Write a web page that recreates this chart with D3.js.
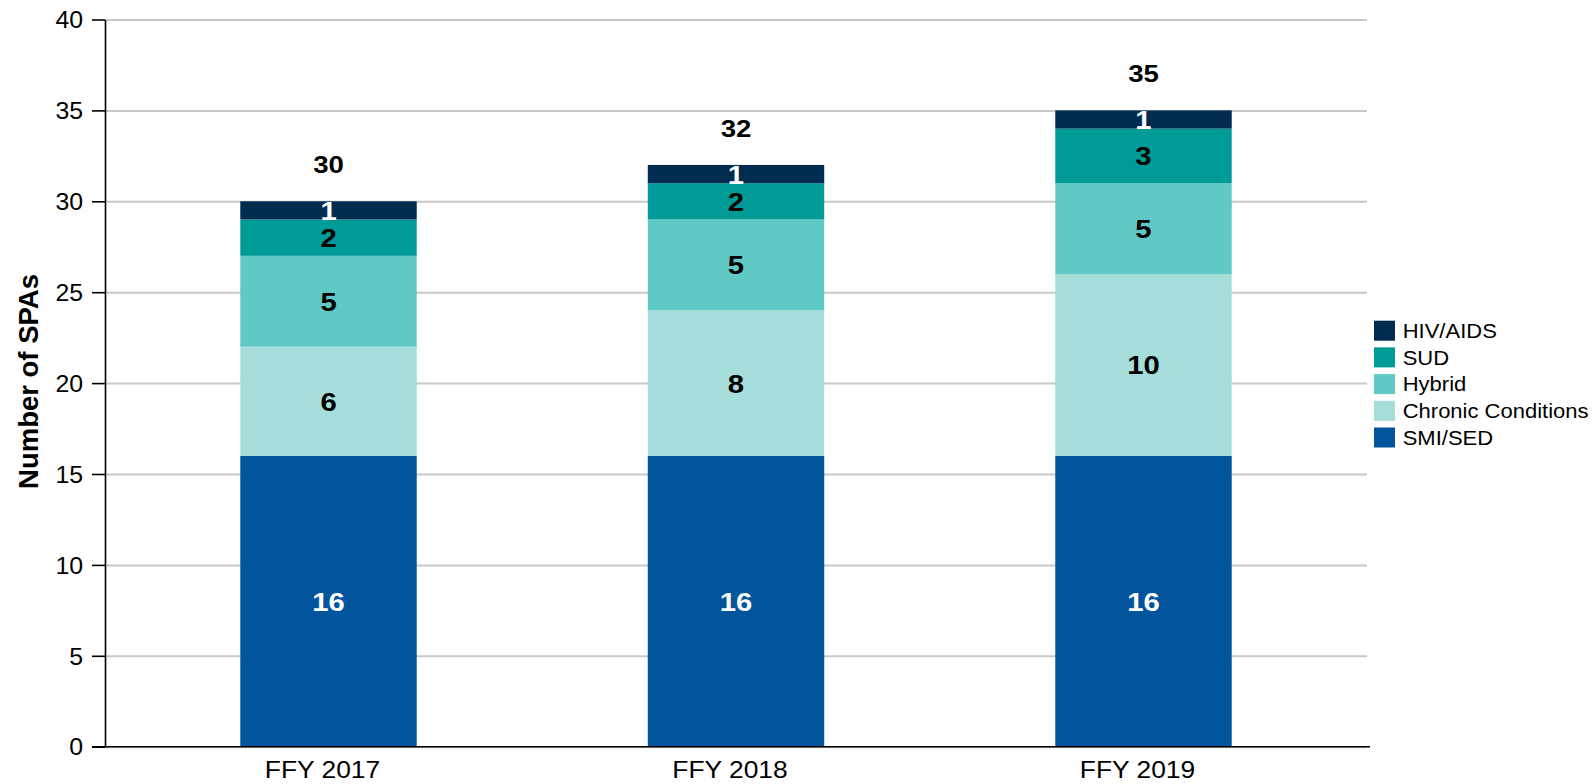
<!DOCTYPE html>
<html lang="en">
<head>
<meta charset="utf-8">
<style type="text/css">
    body { margin: 0; background: #fff; font-family: "Liberation Sans", Arial, sans-serif; }
    svg { display: block; }
    .grid line { stroke: #c8c8c8; stroke-width: 2px; }
    .grid .domain { display: none; }
    .axis path, .axis line { stroke: #000; stroke-width: 1.6px; }
</style>
</head>
<body>
<div id="chart"></div>
<script src="https://d3js.org/d3.v7.min.js"></script>
<script type="text/javascript">
    // data
    var years = ["FFY 2017", "FFY 2018", "FFY 2019"];
    var series = ["SMI/SED", "Chronic Conditions", "Hybrid", "SUD", "HIV/AIDS"];
    var smiSed = [16, 16, 16];
    var chronic = [6, 8, 10];
    var hybrid = [5, 5, 5];
    var sud = [2, 2, 3];
    var hivAids = [1, 1, 1];
    var yTicks = [0, 5, 10, 15, 20, 25, 30, 35, 40];

    var colors = ["#02559d", "#a6dcd9", "#60c9c5", "#009b97", "#022b50"];
    var labelColors = ["#fff", "#000", "#000", "#000", "#fff"];
    var legendOrder = ["HIV/AIDS", "SUD", "Hybrid", "Chronic Conditions", "SMI/SED"];

    var width = 1593, height = 784;
    var plotLeft = 105, plotRight = 1367, plotTop = 19.5, plotBottom = 746.7;

    var rows = years.map(function (y, i) {
        return {
            year: y,
            "SMI/SED": smiSed[i],
            "Chronic Conditions": chronic[i],
            "Hybrid": hybrid[i],
            "SUD": sud[i],
            "HIV/AIDS": hivAids[i]
        };
    });
    var stacked = d3.stack().keys(series)(rows);
    var color = d3.scaleOrdinal().domain(series).range(colors);
    var labelColor = d3.scaleOrdinal().domain(series).range(labelColors);

    var svg = d3.select("#chart").append("svg")
        .attr("width", width)
        .attr("height", height);

    var x = d3.scaleBand().domain(years).range([plotLeft, plotRight])
        .paddingInner(0.567).paddingOuter(0.332);
    var y = d3.scaleLinear().domain([0, 40]).range([plotBottom, plotTop]);

    // gridlines
    svg.append("g").attr("class", "grid")
        .attr("transform", "translate(" + plotLeft + ",0)")
        .call(d3.axisRight(y).tickValues(yTicks).tickSize(plotRight - plotLeft).tickFormat(""));

    // bars
    var layer = svg.append("g").selectAll("g")
        .data(stacked).enter().append("g")
        .attr("fill", function (d) { return color(d.key); });

    layer.selectAll("rect")
        .data(function (d) { return d; })
        .enter().append("rect")
        .attr("x", function (d) { return x(d.data.year); })
        .attr("y", function (d) { return y(d[1]); })
        .attr("width", x.bandwidth())
        .attr("height", function (d) { return y(d[0]) - y(d[1]); });

    // segment labels
    stacked.forEach(function (s) {
        svg.append("g").selectAll("text")
            .data(s).enter().append("text")
            .attr("transform", function (d) {
                var cx = x(d.data.year) + x.bandwidth() / 2;
                var cy = (y(d[0]) + y(d[1])) / 2 + 9.5;
                return "translate(" + cx + "," + cy + ") scale(1.17,1)";
            })
            .attr("text-anchor", "middle")
            .style("font-size", "25px")
            .style("font-weight", "bold")
            .attr("fill", labelColor(s.key))
            .text(function (d) { return d[1] - d[0]; });
    });

    // totals
    var topLayer = stacked[stacked.length - 1];
    svg.append("g").selectAll("text")
        .data(topLayer).enter().append("text")
        .attr("transform", function (d) {
            return "translate(" + (x(d.data.year) + x.bandwidth() / 2) + "," + (y(d[1]) - 28) + ") scale(1.2,1)";
        })
        .attr("text-anchor", "middle")
        .style("font-size", "23px")
        .style("font-weight", "bold")
        .attr("fill", "#000")
        .text(function (d) { return d[1]; });

    // y axis
    var yAxis = svg.append("g").attr("class", "axis")
        .attr("transform", "translate(" + plotLeft + ",0)")
        .call(d3.axisLeft(y).tickValues(yTicks).tickSize(13).tickSizeOuter(0).tickPadding(9));
    yAxis.selectAll("text")
        .attr("x", 0)
        .attr("transform", "translate(-22,0) scale(1.08,1)")
        .style("font-size", "23px")
        .style("font-family", "'Liberation Sans', Arial, sans-serif")
        .attr("fill", "#000")
        .attr("dy", "0.36em");

    // x axis
    var xAxis = svg.append("g").attr("class", "axis")
        .attr("transform", "translate(0," + plotBottom + ")")
        .call(d3.axisBottom(x).tickSize(0).tickPadding(15));
    xAxis.select(".domain").attr("d", "M" + (plotLeft - 13) + ",0H" + (plotRight + 3));
    xAxis.selectAll("text")
        .attr("y", 0)
        .attr("transform", "translate(-6,14) scale(1.1,1)")
        .style("font-size", "24px")
        .style("font-family", "'Liberation Sans', Arial, sans-serif")
        .attr("fill", "#000")
        .attr("dy", "0.72em");

    // y title
    svg.append("text")
        .attr("transform", "translate(38,381.5) rotate(-90)")
        .attr("text-anchor", "middle")
        .style("font-size", "27.5px")
        .style("font-weight", "bold")
        .text("Number of SPAs");

    // legend
    var legend = svg.append("g").attr("transform", "translate(1374,320.7)");
    var item = legend.selectAll("g")
        .data(legendOrder).enter().append("g")
        .attr("transform", function (d, i) { return "translate(0," + (i * 26.7) + ")"; });
    item.append("rect")
        .attr("width", 21).attr("height", 20)
        .attr("fill", function (d) { return color(d); });
    item.append("text")
        .attr("transform", "translate(28.7,17.2) scale(1.1,1)")
        .style("font-size", "20px")
        .attr("fill", "#000")
        .text(function (d) { return d; });
</script>
</body>
</html>
